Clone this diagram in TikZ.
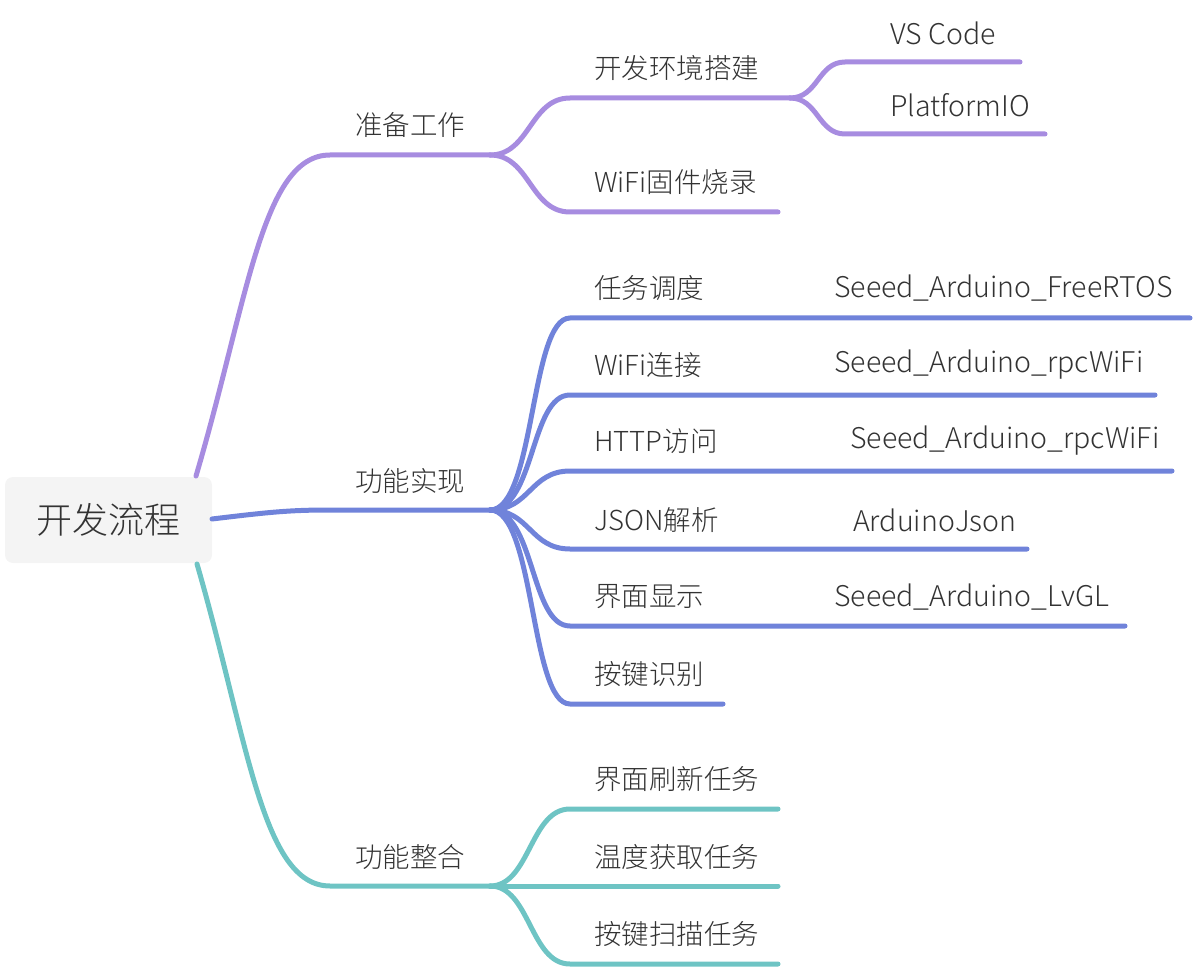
\documentclass[tikz,border=0pt]{standalone}
\usepackage{fontspec}
\setmainfont{Noto Sans CJK SC}[UprightFont=* Light]

\definecolor{rootfill}{HTML}{F4F4F4}
\definecolor{txtcol}{HTML}{333333}
\definecolor{prepcol}{HTML}{A78CE0}
\definecolor{implcol}{HTML}{7083DA}
\definecolor{intcol}{HTML}{6EC4C4}

\tikzset{
  branch/.style={line width=5pt, line cap=round},
  topic/.style={text=txtcol, anchor=west, inner sep=0pt, font=\fontsize{27.5}{32}\selectfont},
  leaf/.style={topic, font=\fontsize{28.5}{32}\selectfont},
}

\begin{document}
\begin{tikzpicture}[x=1pt,y=-1pt]
  \useasboundingbox (0,0) rectangle (1194,968);

  % Root
  \node[fill=rootfill, rounded corners=8pt, minimum width=207pt, minimum height=86pt,
        text=txtcol, font=\fontsize{36}{40}\selectfont] (root) at (108.5,520) {开发流程};

  % ---------- 准备工作 ----------
  \coordinate (prepS) at (196,476);
  \coordinate (prepL) at (330,155);
  \coordinate (prepH) at (490,155);
  \draw[branch, prepcol] (prepS) .. controls (248,300) and (262,155) .. (prepL) -- (prepH);
  \node[topic] (prep) at (355,125) {准备工作};

  \coordinate (envL) at (570,98);
  \coordinate (envH) at (790,98);
  \draw[branch, prepcol] (prepH) .. controls (530,155) and (530,98) .. (envL) -- (envH);
  \node[topic] (env) at (594,68) {开发环境搭建};

  \coordinate (vsL) at (845,62);
  \coordinate (vsE) at (1020,62);
  \draw[branch, prepcol] (envH) .. controls (818,98) and (818,62) .. (vsL) -- (vsE);
  \node[leaf] (vs) at (890,33) {VS Code};

  \coordinate (pioL) at (845,134);
  \coordinate (pioE) at (1045,134);
  \draw[branch, prepcol] (envH) .. controls (818,98) and (818,134) .. (pioL) -- (pioE);
  \node[leaf] (pio) at (890,105) {PlatformIO};

  \coordinate (flashL) at (570,212);
  \coordinate (flashE) at (778,212);
  \draw[branch, prepcol] (prepH) .. controls (530,155) and (530,212) .. (flashL) -- (flashE);
  \node[topic] (flash) at (594,182) {WiFi固件烧录};

  % ---------- 功能实现 ----------
  \coordinate (implS) at (212,519);
  \coordinate (implL) at (330,510);
  \coordinate (implH) at (490,510);
  \draw[branch, implcol] (implS) .. controls (270,512) and (290,510) .. (implL) -- (implH);
  \node[topic] (impl) at (355,481) {功能实现};

  % task scheduling
  \coordinate (taskL) at (570,318);
  \coordinate (taskH) at (722,318);
  \coordinate (rtosE) at (1190,318);
  \draw[branch, implcol] (implH) .. controls (535,510) and (530,318) .. (taskL) -- (taskH) -- (rtosE);
  \node[topic] (task) at (594,288) {任务调度};
  \node[leaf] (rtos) at (834,288) {Seeed\_Arduino\_FreeRTOS};

  % wifi
  \coordinate (wifiL) at (570,395);
  \coordinate (wifiH) at (722,395);
  \coordinate (rpcAE) at (1155,395);
  \draw[branch, implcol] (implH) .. controls (535,510) and (530,395) .. (wifiL) -- (wifiH) -- (rpcAE);
  \node[topic] (wifi) at (594,365) {WiFi连接};
  \node[leaf] (rpcA) at (834,365) {Seeed\_Arduino\_rpcWiFi};

  % http
  \coordinate (httpL) at (570,471);
  \coordinate (httpH) at (722,471);
  \coordinate (rpcBE) at (1172,471);
  \draw[branch, implcol] (implH) .. controls (530,510) and (530,471) .. (httpL) -- (httpH) -- (rpcBE);
  \node[topic] (http) at (594,441) {HTTP访问};
  \node[leaf] (rpcB) at (850,441) {Seeed\_Arduino\_rpcWiFi};

  % json
  \coordinate (jsonL) at (570,549);
  \coordinate (jsonH) at (722,549);
  \coordinate (ajE) at (1027,549);
  \draw[branch, implcol] (implH) .. controls (530,510) and (530,549) .. (jsonL) -- (jsonH) -- (ajE);
  \node[topic] (json) at (594,520) {JSON解析};
  \node[leaf] (aj) at (853,520) {ArduinoJson};

  % gui
  \coordinate (guiL) at (570,626);
  \coordinate (guiH) at (722,626);
  \coordinate (lvglE) at (1125,626);
  \draw[branch, implcol] (implH) .. controls (535,510) and (530,626) .. (guiL) -- (guiH) -- (lvglE);
  \node[topic] (gui) at (594,597) {界面显示};
  \node[leaf] (lvgl) at (834,597) {Seeed\_Arduino\_LvGL};

  % keys
  \coordinate (keyL) at (570,704);
  \coordinate (keyE) at (723,704);
  \draw[branch, implcol] (implH) .. controls (535,510) and (530,704) .. (keyL) -- (keyE);
  \node[topic] (key) at (594,674) {按键识别};

  % ---------- 功能整合 ----------
  \coordinate (intS) at (197,564);
  \coordinate (intL) at (330,886);
  \coordinate (intH) at (490,886);
  \draw[branch, intcol] (intS) .. controls (248,740) and (262,886) .. (intL) -- (intH);
  \node[topic] (integ) at (355,857) {功能整合};

  \coordinate (refL) at (570,809);
  \coordinate (refE) at (778,809);
  \draw[branch, intcol] (intH) .. controls (530,886) and (530,809) .. (refL) -- (refE);
  \node[topic] (refresh) at (594,779) {界面刷新任务};

  \coordinate (tempE) at (778,886);
  \draw[branch, intcol] (intH) -- (tempE);
  \node[topic] (temp) at (594,857) {温度获取任务};

  \coordinate (scanL) at (570,964);
  \coordinate (scanE) at (778,964);
  \draw[branch, intcol] (intH) .. controls (530,886) and (530,964) .. (scanL) -- (scanE);
  \node[topic] (scan) at (594,934) {按键扫描任务};
\end{tikzpicture}
\end{document}
